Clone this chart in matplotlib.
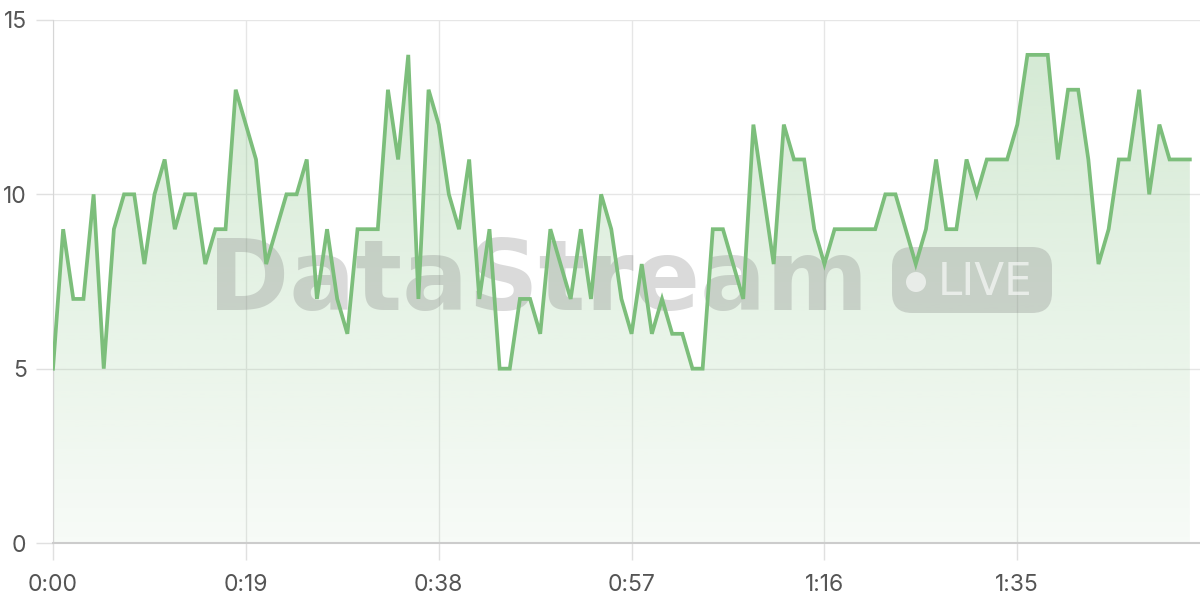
import numpy as np
import matplotlib
matplotlib.use("Agg")
import matplotlib.pyplot as plt
from matplotlib.patches import FancyBboxPatch, Circle

plt.rcParams["font.family"] = ["Inter", "DejaVu Sans"]

# data: one reading per second
values = [
    5, 9, 7, 7, 10, 5, 9, 10, 10, 8,
    10, 11, 9, 10, 10, 8, 9, 9, 13, 12,
    11, 8, 9, 10, 10, 11, 7, 9, 7, 6,
    9, 9, 9, 13, 11, 14, 7, 13, 12, 10,
    9, 11, 7, 9, 5, 5, 7, 7, 6, 9,
    8, 7, 9, 7, 10, 9, 7, 6, 8, 6,
    7, 6, 6, 5, 5, 9, 9, 8, 7, 12,
    10, 8, 12, 11, 11, 9, 8, 9, 9, 9,
    9, 9, 10, 10, 9, 8, 9, 11, 9, 9,
    11, 10, 11, 11, 11, 12, 14, 14, 14, 11,
    13, 13, 11, 8, 9, 11, 11, 13, 10, 12,
    11, 11, 11,
]
seconds = np.arange(len(values))
x_ticks = [0, 19, 38, 57, 76, 95]
y_ticks = [0, 5, 10, 15]

line_color = "#7cbe7b"
text_color = "#555555"

fig = plt.figure(figsize=(12, 6), dpi=100)
ax = fig.add_axes([53 / 1200, 57 / 600, 1 - 53 / 1200, 523 / 600])
ax.set_xlim(0, 113)
ax.set_ylim(0, 15)

# gradient fill under the line
poly = ax.fill_between(seconds, values, 0, color="none", lw=0)
grad = np.zeros((256, 1, 4))
grad[:, 0, 0] = 124 / 255
grad[:, 0, 1] = 190 / 255
grad[:, 0, 2] = 123 / 255
grad[:, 0, 3] = np.linspace(0.06, 0.34, 256)
img = ax.imshow(grad, extent=[0, 113, 0, 15], origin="lower", aspect="auto",
                zorder=1, interpolation="bilinear")
img.set_clip_path(poly.get_paths()[0], transform=ax.transData)
ax.set_xlim(0, 113)
ax.set_ylim(0, 15)

ax.plot(seconds, values, color=line_color, lw=2.7, zorder=4,
        solid_joinstyle="miter")

# watermark, placed in inches from the lower left corner
inch = fig.dpi_scale_trans
wm_gray = "#777777"
ax.text(2.08, 2.90, "DataStream", transform=inch, family="DejaVu Sans",
        fontsize=70.5, fontweight="bold", color=wm_gray, alpha=0.27,
        ha="left", va="baseline", zorder=3)
badge = FancyBboxPatch((8.92, 2.87), 1.60, 0.66,
                       boxstyle="round,pad=0,rounding_size=0.2",
                       transform=inch, fc=wm_gray, ec="none",
                       alpha=0.27, zorder=3)
ax.add_patch(badge)
ax.add_patch(Circle((9.16, 3.18), 0.10, transform=inch,
                    fc="white", ec="none", alpha=0.6, zorder=3))
ax.text(9.38, 3.05, "LIVE", transform=inch, family="DejaVu Sans",
        fontsize=31.5, color="white", alpha=0.6, ha="left", va="baseline",
        zorder=3)

ax.set_xticks(x_ticks)
ax.set_xticklabels([f"{s // 60}:{s % 60:02d}" for s in x_ticks])
ax.set_yticks(y_ticks)
ax.grid(True, color="#e6e6e6", lw=1)
ax.set_axisbelow(True)
ax.tick_params(colors="#e0e0e0", labelcolor=text_color, labelsize=16.5,
               length=12, width=1)
ax.tick_params(axis="y", pad=7)
ax.tick_params(axis="x", pad=10)
for side in ["top", "right"]:
    ax.spines[side].set_visible(False)
ax.spines["left"].set_color("#d6d6d6")
ax.spines["bottom"].set_color("#cccccc")
ax.spines["bottom"].set_linewidth(1.5)

fig.savefig("out.png", dpi=100)
